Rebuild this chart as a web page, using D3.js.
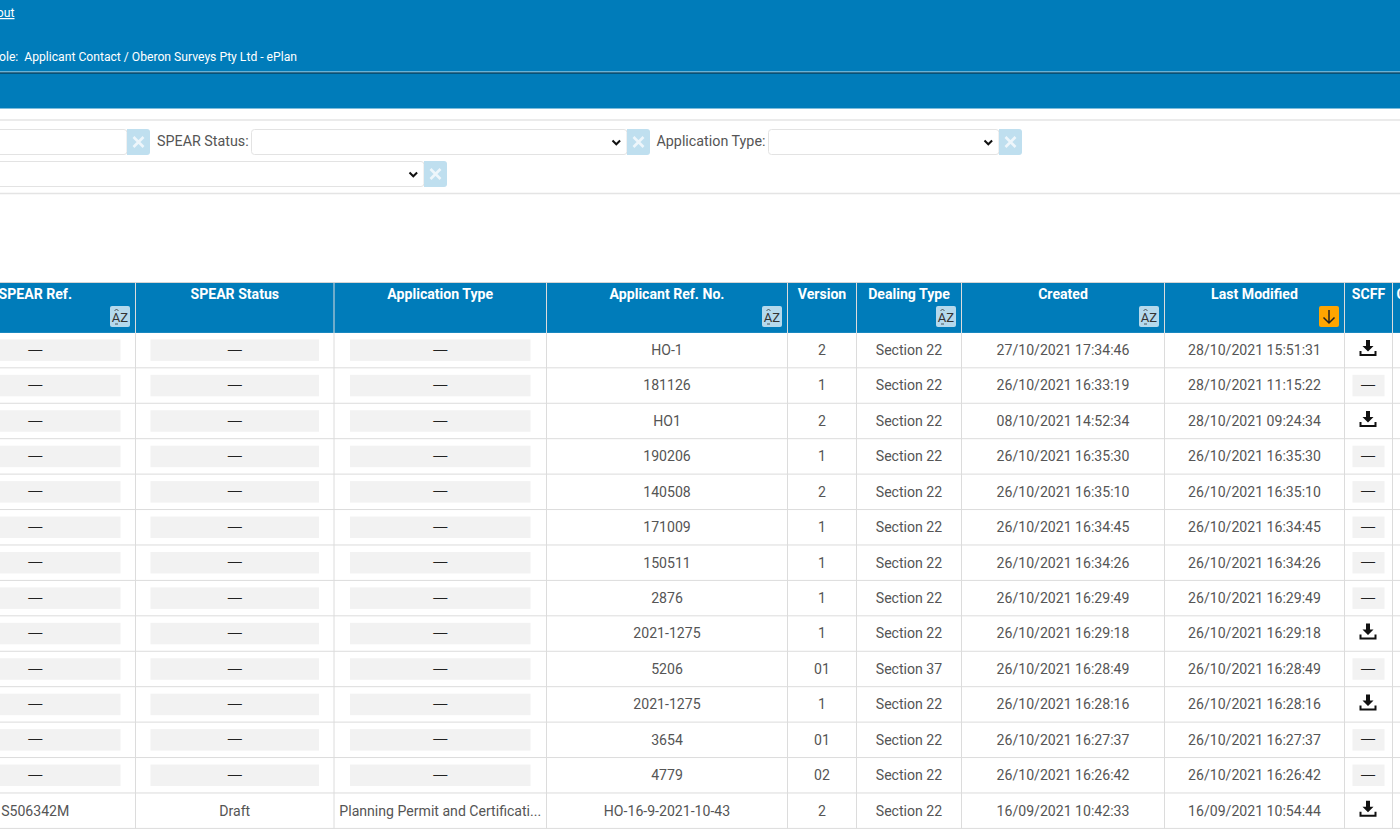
<!DOCTYPE html>
<html>
<head>
<meta charset="utf-8">
<script src="https://cdn.jsdelivr.net/npm/d3@7"></script>
<style>
html, body { margin: 0; padding: 0; background: #fff; overflow: hidden; }
svg { display: block; }
text { font-family: Roboto, sans-serif; }
</style>
</head>
<body>
<div id="table"></div>
<script>
// table values, read top to bottom
var spearRefs = ["—","—","—","—","—","—","—","—","—","—","—","—","—","S506342M"];
var spearStatuses = ["—","—","—","—","—","—","—","—","—","—","—","—","—","Draft"];
var applicationTypes = ["—","—","—","—","—","—","—","—","—","—","—","—","—","Planning Permit and Certificati..."];
var applicantRefs = ["HO-1","181126","HO1","190206","140508","171009","150511","2876","2021-1275","5206","2021-1275","3654","4779","HO-16-9-2021-10-43"];
var versions = ["2","1","2","1","2","1","1","1","1","01","1","01","02","2"];
var dealingTypes = ["Section 22","Section 22","Section 22","Section 22","Section 22","Section 22","Section 22","Section 22","Section 22","Section 37","Section 22","Section 22","Section 22","Section 22"];
var createdDates = ["27/10/2021 17:34:46","26/10/2021 16:33:19","08/10/2021 14:52:34","26/10/2021 16:35:30","26/10/2021 16:35:10","26/10/2021 16:34:45","26/10/2021 16:34:26","26/10/2021 16:29:49","26/10/2021 16:29:18","26/10/2021 16:28:49","26/10/2021 16:28:16","26/10/2021 16:27:37","26/10/2021 16:26:42","16/09/2021 10:42:33"];
var modifiedDates = ["28/10/2021 15:51:31","28/10/2021 11:15:22","28/10/2021 09:24:34","26/10/2021 16:35:30","26/10/2021 16:35:10","26/10/2021 16:34:45","26/10/2021 16:34:26","26/10/2021 16:29:49","26/10/2021 16:29:18","26/10/2021 16:28:49","26/10/2021 16:28:16","26/10/2021 16:27:37","26/10/2021 16:26:42","16/09/2021 10:54:44"];
var scffFiles = [1,0,1,0,0,0,0,0,1,0,1,0,0,1];

var columnNames = ["SPEAR Ref.","SPEAR Status","Application Type","Applicant Ref. No.","Version","Dealing Type","Created","Last Modified","SCFF","C"];
var columnValues = [spearRefs, spearStatuses, applicationTypes, applicantRefs, versions, dealingTypes, createdDates, modifiedDates];

var userRole = "ole:  Applicant Contact / Oberon Surveys Pty Ltd - ePlan";
var logoutLabel = "out";

// layout
var width = 1400, height = 840;
var blue = "#007cba", lineColor = "#dcdcdc", textColor = "#555";
var edges = [-65, 135.5, 334, 546.5, 787.5, 856.5, 961.5, 1164.5, 1344.5, 1392.5, 1460];
var headerTop = 282.5, rowsTop = 332.4, rowsBottom = 828.4;
var cellFont = 14.1;

var svg = d3.select("#table").append("svg").attr("width", width).attr("height", height);

var colLeft = d3.scaleOrdinal().domain(columnNames).range(edges.slice(0, -1));
var colRight = d3.scaleOrdinal().domain(columnNames).range(edges.slice(1));
var colMid = d => (colLeft(d) + colRight(d)) / 2;

var rowScale = d3.scaleBand().domain(d3.range(spearRefs.length)).range([rowsTop, rowsBottom]);

// top banner
svg.append("rect").attr("width", width).attr("height", 108.5).attr("fill", blue);
svg.append("line").attr("x1", 0).attr("x2", width).attr("y1", 72).attr("y2", 72).attr("stroke", "#cfe8f5");
svg.append("line").attr("x1", 0).attr("x2", width).attr("y1", 73).attr("y2", 73).attr("stroke", "#06283a");
svg.append("text").attr("x", 14.5).attr("y", 17).attr("text-anchor", "end")
    .attr("font-size", 12.2).attr("fill", "#fff").attr("text-decoration", "underline").text(logoutLabel);
svg.append("text").attr("x", -1).attr("y", 61).attr("xml:space", "preserve")
    .attr("font-size", 12.15).attr("fill", "#fff").style("white-space", "pre").text(userRole);

// filter bar
[120, 193.5].forEach(y => {
    svg.append("line").attr("x1", 0).attr("x2", width).attr("y1", y).attr("y2", y)
        .attr("stroke", "#e4e4e4").attr("stroke-width", 1.5);
});

function filterBox(x0, x1, y, hasArrow)
{
    svg.append("rect").attr("x", x0 - .5).attr("y", y + .5).attr("width", x1 - x0 + .5).attr("height", 25)
        .attr("rx", 3).attr("fill", "#fff").attr("stroke", "#e3e3e3");
    svg.append("rect").attr("x", x1).attr("y", y).attr("width", 23).attr("height", 26)
        .attr("rx", 3).attr("fill", "#bfdfef");
    svg.append("rect").attr("x", x1).attr("y", y).attr("width", 5).attr("height", 26).attr("fill", "#bfdfef");
    svg.append("path").attr("d", `M${x1 + 6.5},${y + 8}l10,10M${x1 + 16.5},${y + 8}l-10,10`)
        .attr("stroke", "#eef6fb").attr("stroke-width", 2.6).attr("fill", "none");
    if (hasArrow)
    {
        svg.append("path").attr("d", `M${x1 - 14.5},${y + 11.5}l3.8,3.8l3.8,-3.8`)
            .attr("stroke", "#111").attr("stroke-width", 2).attr("fill", "none");
    }
}

filterBox(-20, 127, 129, false);
filterBox(252, 627, 129, true);
filterBox(769, 999, 129, true);
filterBox(-20, 424, 161, true);

svg.append("text").attr("x", 157).attr("y", 146).attr("font-size", 14.3).attr("fill", textColor).text("SPEAR Status:");
svg.append("text").attr("x", 656.5).attr("y", 146).attr("font-size", 14.3).attr("fill", textColor).text("Application Type:");

// table header
svg.append("rect").attr("x", 0).attr("y", headerTop).attr("width", width).attr("height", rowsTop + .5 - headerTop).attr("fill", blue);
svg.append("line").attr("x1", 0).attr("x2", width).attr("y1", headerTop).attr("y2", headerTop).attr("stroke", "#d5d5d5");

svg.selectAll(".head").data(columnNames).enter().append("text")
    .attr("class", "head")
    .attr("x", d => colMid(d))
    .attr("y", 298.7)
    .attr("text-anchor", "middle")
    .attr("font-size", cellFont)
    .attr("font-weight", 700)
    .attr("fill", "#fff")
    .text(d => d);
// the last column runs off the page, its label starts at the edge
svg.selectAll(".head").filter(d => d === "C").attr("x", 1396.5).attr("text-anchor", "start");

function sortButton(name, active)
{
    var x = colRight(name) - 25.5, y = 306;
    svg.append("rect").attr("x", x).attr("y", y).attr("width", 20).attr("height", 21).attr("rx", 2)
        .attr("fill", active ? "#ffa500" : "#b5d9ec");
    if (active)
    {
        svg.append("path").attr("d", `M${x + 10},${y + 4}v13M${x + 4.5},${y + 11.5}l5.5,5.5l5.5,-5.5`)
            .attr("stroke", "#222").attr("stroke-width", 1.5).attr("fill", "none");
    }
    else
    {
        svg.append("text").attr("x", x + 10).attr("y", y + 15.5).attr("text-anchor", "middle")
            .attr("font-size", 13).attr("fill", "#333").text("AZ");
        svg.append("path").attr("d", `M${x + 4.5},${y + 5}l2,-2l2,2M${x + 5},${y + 18}h3`)
            .attr("stroke", "#333").attr("stroke-width", .8).attr("fill", "none");
    }
}

["SPEAR Ref.", "Applicant Ref. No.", "Dealing Type", "Created"].forEach(d => sortButton(d, false));
sortButton("Last Modified", true);

// grey boxes behind empty cells
var boxInset = { "SPEAR Ref.": 15, "SPEAR Status": 15, "Application Type": 16, "SCFF": 8 };
var rowIndex = d3.range(spearRefs.length);

columnNames.slice(0, 3).forEach((name, c) => {
    svg.selectAll(".box" + c).data(rowIndex.filter(i => columnValues[c][i] === "—")).enter().append("rect")
        .attr("x", colLeft(name) + boxInset[name])
        .attr("y", i => rowScale(i) + 7)
        .attr("width", colRight(name) - colLeft(name) - 2 * boxInset[name])
        .attr("height", 21.5)
        .attr("fill", "#f2f2f2");
});

svg.selectAll(".scffbox").data(rowIndex.filter(i => !scffFiles[i])).enter().append("rect")
    .attr("x", colLeft("SCFF") + boxInset["SCFF"])
    .attr("y", i => rowScale(i) + 7)
    .attr("width", colRight("SCFF") - colLeft("SCFF") - 2 * boxInset["SCFF"])
    .attr("height", 21.5)
    .attr("fill", "#f2f2f2");

// row lines
svg.selectAll(".rowline").data(rowIndex).enter().append("line")
    .attr("x1", 0).attr("x2", width)
    .attr("y1", i => rowScale(i) + rowScale.bandwidth())
    .attr("y2", i => rowScale(i) + rowScale.bandwidth())
    .attr("stroke", lineColor);

// column lines
svg.selectAll(".colline").data(columnNames.slice(1)).enter().append("line")
    .attr("x1", d => colLeft(d)).attr("x2", d => colLeft(d))
    .attr("y1", headerTop).attr("y2", rowsBottom)
    .attr("stroke", lineColor);

// cell text, the dashes come out too short in Roboto
columnValues.forEach((values, c) => {
    var name = columnNames[c];
    svg.selectAll(".cell" + c).data(values).enter().append("text")
        .attr("x", colMid(name))
        .attr("y", (d, i) => rowScale(i) + rowScale.bandwidth() / 2 + (d === "—" ? 3.6 : 4.9))
        .attr("text-anchor", "middle")
        .attr("font-size", cellFont)
        .attr("fill", d => d === "—" ? "#222" : textColor)
        .style("font-family", d => d === "—" ? "'Liberation Sans'" : null)
        .text(d => d);
});

// SCFF column, download icon or dash
rowIndex.forEach(i => {
    var cx = colMid("SCFF") - .5, cy = rowScale(i) + rowScale.bandwidth() / 2 - 1;
    if (scffFiles[i])
    {
        svg.append("path")
            .attr("d", `M${cx - 2},${cy - 9}h4v6h3.5l-5.5,5.5l-5.5,-5.5h3.5z`)
            .attr("fill", "#111");
        svg.append("path")
            .attr("d", `M${cx - 7.5},${cy + 2}v4h15v-4`)
            .attr("stroke", "#111").attr("stroke-width", 2).attr("fill", "none");
    }
    else
    {
        svg.append("text").attr("x", cx).attr("y", cy + 4.6).attr("text-anchor", "middle")
            .attr("font-size", cellFont).attr("fill", "#222")
            .style("font-family", "'Liberation Sans'").text("—");
    }
});
</script>
</body>
</html>
